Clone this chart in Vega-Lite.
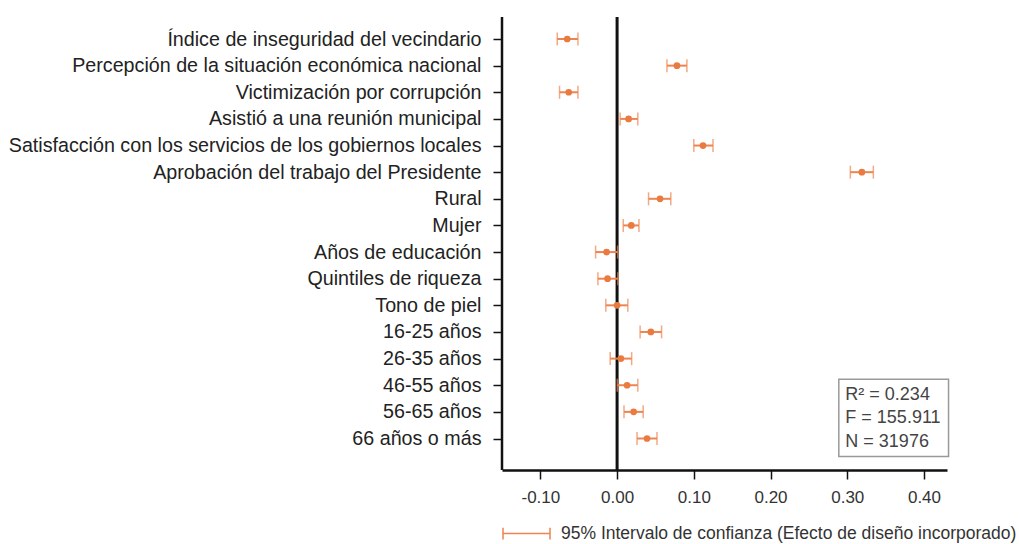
{
  "$schema": "https://vega.github.io/schema/vega-lite/v6.json",
  "width": 445,
  "height": 453,
  "padding": {"left": 8, "top": 15, "right": 2, "bottom": 0},
  "background": "white",
  "config": {
    "view": {"stroke": null},
    "font": "Liberation Sans",
    "axis": {"grid": false, "title": null, "domainColor": "#111", "tickColor": "#111"}
  },
  "data": {
    "values": [
      {"var": "Índice de inseguridad del vecindario", "coef": -0.065, "lo": -0.078, "hi": -0.051},
      {"var": "Percepción de la situación económica nacional", "coef": 0.078, "lo": 0.065, "hi": 0.091},
      {"var": "Victimización por corrupción", "coef": -0.063, "lo": -0.075, "hi": -0.051},
      {"var": "Asistió a una reunión municipal", "coef": 0.015, "lo": 0.004, "hi": 0.027},
      {"var": "Satisfacción con los servicios de los gobiernos locales", "coef": 0.112, "lo": 0.1, "hi": 0.125},
      {"var": "Aprobación del trabajo del Presidente", "coef": 0.319, "lo": 0.304, "hi": 0.334},
      {"var": "Rural", "coef": 0.056, "lo": 0.041, "hi": 0.07},
      {"var": "Mujer", "coef": 0.0185, "lo": 0.008, "hi": 0.0285},
      {"var": "Años de educación", "coef": -0.0137, "lo": -0.028, "hi": 0.0007},
      {"var": "Quintiles de riqueza", "coef": -0.0124, "lo": -0.025, "hi": 0.001},
      {"var": "Tono de piel", "coef": 0.0, "lo": -0.0147, "hi": 0.014},
      {"var": "16-25 años", "coef": 0.044, "lo": 0.03, "hi": 0.058},
      {"var": "26-35 años", "coef": 0.005, "lo": -0.009, "hi": 0.019},
      {"var": "46-55 años", "coef": 0.013, "lo": 0.0003, "hi": 0.027},
      {"var": "56-65 años", "coef": 0.0216, "lo": 0.009, "hi": 0.034},
      {"var": "66 años o más", "coef": 0.039, "lo": 0.026, "hi": 0.052}
    ]
  },
  "encoding": {
    "y": {
      "field": "var",
      "type": "nominal",
      "sort": null,
      "scale": {
        "type": "point",
        "padding": 0,
        "domain": ["Índice de inseguridad del vecindario", "Percepción de la situación económica nacional", "Victimización por corrupción", "Asistió a una reunión municipal", "Satisfacción con los servicios de los gobiernos locales", "Aprobación del trabajo del Presidente", "Rural", "Mujer", "Años de educación", "Quintiles de riqueza", "Tono de piel", "16-25 años", "26-35 años", "46-55 años", "56-65 años", "66 años o más"],
        "range": [22, 421.5]
      },
      "axis": {
        "labelFontSize": 19.7,
        "labelColor": "#222",
        "labelPadding": 12,
        "tickSize": 9,
        "tickWidth": 1.5,
        "domain": false,
        "labelLimit": 600
      }
    }
  },
  "layer": [
    {
      "data": {"values": [{}]},
      "mark": {"type": "rule", "stroke": "#111", "strokeWidth": 3},
      "encoding": {
        "x": {
          "datum": 0,
          "type": "quantitative",
          "scale": {"domain": [-0.15, 0.43], "nice": false, "zero": false},
          "axis": {
            "values": [-0.1, 0, 0.1, 0.2, 0.3, 0.4],
            "labelExpr": "replace(format(datum.value, '.2f'), '\u2212', '-')",
            "labelFontSize": 17,
            "labelColor": "#333",
            "labelPadding": 10,
            "tickSize": 9,
            "tickWidth": 1.5,
            "domainWidth": 2.5
          }
        },
        "y": null
      }
    },
    {
      "data": {"values": [{}]},
      "mark": {"type": "rule", "stroke": "#111", "strokeWidth": 2.5},
      "encoding": {
        "x": {"datum": -0.15, "type": "quantitative"},
        "y": null
      }
    },
    {
      "mark": {"type": "rule", "strokeWidth": 2},
      "encoding": {
        "x": {"field": "lo", "type": "quantitative"},
        "x2": {"field": "hi"},
        "color": {
          "datum": "95% Intervalo de confianza (Efecto de diseño incorporado)",
          "scale": {"range": ["#EE8450"]},
          "legend": {
            "title": null,
            "orient": "bottom",
            "offset": 4,
            "symbolType": "M-1,-0.25L-1,0.25M-1,0L1,0M1,-0.25L1,0.25",
            "symbolSize": 2209,
            "symbolStrokeWidth": 1.5,
            "labelFontSize": 17.5,
            "labelColor": "#333",
            "labelOffset": 10,
            "labelLimit": 700
          }
        }
      }
    },
    {
      "mark": {"type": "tick", "color": "#EE8450", "thickness": 1.5, "size": 13},
      "encoding": {"x": {"field": "lo", "type": "quantitative"}}
    },
    {
      "mark": {"type": "tick", "color": "#EE8450", "thickness": 1.5, "size": 13},
      "encoding": {"x": {"field": "hi", "type": "quantitative"}}
    },
    {
      "mark": {"type": "circle", "color": "#EA7B40", "opacity": 1, "size": 45},
      "encoding": {"x": {"field": "coef", "type": "quantitative"}}
    },
    {
      "data": {"values": [{}]},
      "mark": {"type": "rect", "fill": "white", "stroke": "#999", "strokeWidth": 1.5, "yOffset": -6, "y2Offset": 18},
      "encoding": {
        "x": {"datum": 0.289, "type": "quantitative"},
        "x2": {"datum": 0.432},
        "y": {"datum": "46-55 años"},
        "y2": {"datum": "66 años o más"}
      }
    },
    {
      "data": {"values": [{}]},
      "mark": {"type": "text", "align": "left", "baseline": "middle", "fontSize": 18, "color": "#444", "lineHeight": 23.5, "dy": -17, "text": ["R² = 0.234", "F = 155.911", "N = 31976"]},
      "encoding": {
        "x": {"datum": 0.2975, "type": "quantitative"},
        "y": {"datum": "56-65 años"}
      }
    }
  ]
}
